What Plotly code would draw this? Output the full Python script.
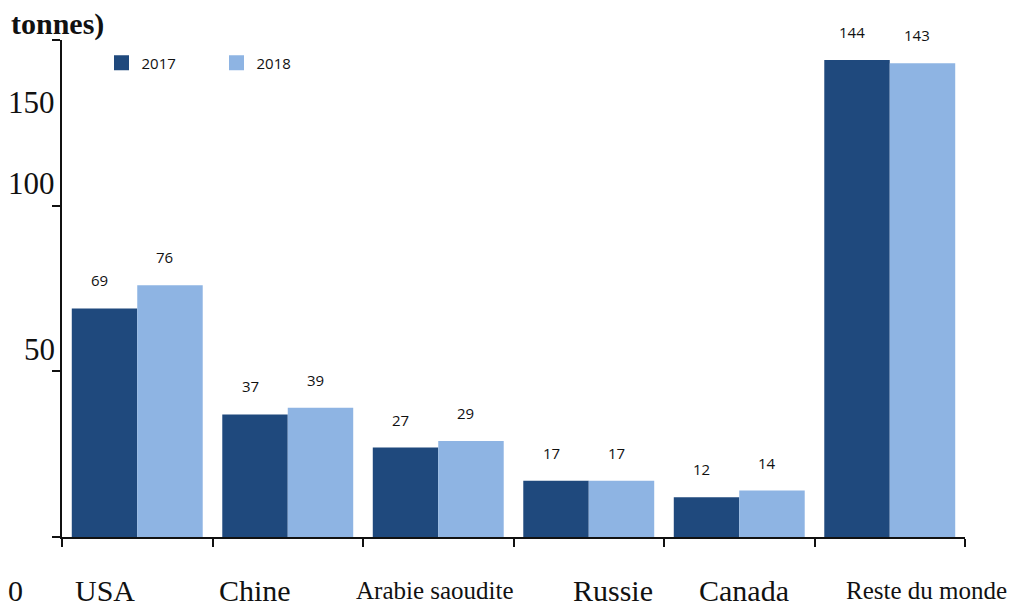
import plotly.graph_objects as go

categories = ["USA", "Chine", "Arabie saoudite", "Russie", "Canada", "Reste du monde"]
values_2017 = [69, 37, 27, 17, 12, 144]
values_2018 = [76, 39, 29, 17, 14, 143]
y_ticks = [0, 50, 100, 150]
y_tick_labels = ["0", "50", "100", "150"]

DARK = "#1F497D"
LIGHT = "#8EB4E3"
SERIF = "Liberation Serif, Times New Roman, serif"
SANS = "Open Sans, Arial, sans-serif"

fig = go.Figure()
fig.add_trace(go.Bar(name="2017", x=categories, y=values_2017, showlegend=False,
                     marker=dict(color=DARK, line=dict(width=0))))
fig.add_trace(go.Bar(name="2018", x=categories, y=values_2018, showlegend=False,
                     marker=dict(color=LIGHT, line=dict(width=0))))
# legend entries with larger square swatches
for name, col in (("2017", DARK), ("2018", LIGHT)):
    fig.add_trace(go.Scatter(name=name, x=[None], y=[None], mode="markers",
                             marker=dict(symbol="square", size=15, color=col, line=dict(width=0))))

bargap = 0.13
half = (1 - bargap) / 4.0
annotations = []
# data labels
for i, (a, b) in enumerate(zip(values_2017, values_2018)):
    for off, v in ((-half, a), (half, b)):
        annotations.append(dict(x=i + off, y=v, xref="x", yref="y", text=str(v), showarrow=False,
                                xanchor="center", yanchor="middle", yshift=28, xshift=-5,
                                font=dict(family=SANS, size=15, color="#111111")))

# category labels (positioned like the reference)
cat_shift = [-32, -33, -3, 24, 5, 37]
cat_size = [30, 30, 25, 30, 30, 25]
for i, c in enumerate(categories):
    annotations.append(dict(x=i, y=0, xref="x", yref="y", text=c, showarrow=False,
                            xanchor="center", yanchor="middle", yshift=-53, xshift=cat_shift[i],
                            font=dict(family=SERIF, size=cat_size[i], color="#111111")))

# y tick labels (offset like the reference)
y_shift = [-53, 22, 22, -62]
x_shift = [-37, -5, -5, -5]
y_size = [30, 31, 31, 31]
for v, t, ys, xs, sz in zip(y_ticks, y_tick_labels, y_shift, x_shift, y_size):
    annotations.append(dict(x=0, y=v, xref="paper", yref="y", text=t, showarrow=False,
                            xanchor="right", yanchor="middle", yshift=ys, xshift=xs,
                            font=dict(family=SERIF, size=sz, color="#111111")))

# title fragment
annotations.append(dict(x=0, y=1, xref="paper", yref="paper", text="<b>tonnes)</b>", showarrow=False,
                        xanchor="left", yanchor="middle", xshift=-53, yshift=16,
                        font=dict(family=SERIF, size=30, color="#111111")))

fig.update_layout(
    width=1015, height=608,
    margin=dict(l=62, r=50, t=40, b=71),
    paper_bgcolor="white", plot_bgcolor="white",
    barmode="group", bargap=bargap, bargroupgap=0,
    showlegend=True,
    legend=dict(orientation="h", x=(101.5 - 62) / 903, xanchor="left", y=1 - (63 - 40) / 497,
                yanchor="middle", font=dict(family=SANS, size=15, color="#111111"), entrywidth=70,
                bgcolor="rgba(0,0,0,0)", itemclick=False),
    annotations=annotations,
    xaxis=dict(type="category", showticklabels=False, ticks="outside", tickson="boundaries",
               ticklen=8, tickwidth=2, tickcolor="#111111", showline=True, linecolor="#111111",
               linewidth=2, showgrid=False, zeroline=False, range=[-0.5, 5.5]),
    yaxis=dict(range=[0, 150], tickvals=y_ticks, showticklabels=False, ticks="outside",
               ticklen=8, tickwidth=2, tickcolor="#111111", showline=True, linecolor="#111111",
               linewidth=2, showgrid=False, zeroline=False),
)

fig.write_html("out.html")
